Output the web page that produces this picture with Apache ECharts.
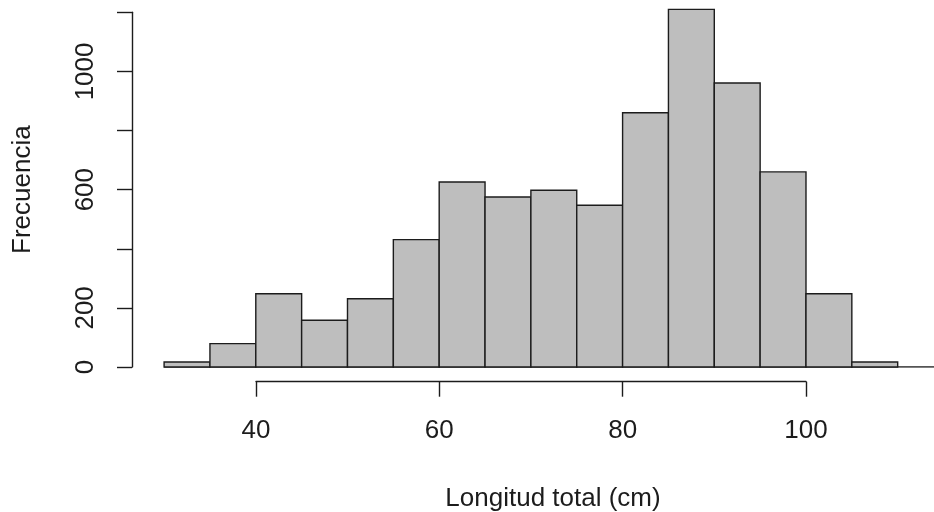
<!DOCTYPE html>
<html>
<head>
<meta charset="utf-8">
<script src="https://cdn.jsdelivr.net/npm/echarts@6/dist/echarts.min.js"></script>
<style>
html,body{margin:0;padding:0;background:#fff;}
#chart{width:934px;height:512px;}
</style>
</head>
<body>
<div id="chart"></div>
<script>
// ---- data ----
const binStarts = [30, 35, 40, 45, 50, 55, 60, 65, 70, 75, 80, 85, 90, 95, 100, 105];
const binWidth = 5;
const counts = [17, 79, 248, 158, 231, 431, 626, 575, 598, 547, 860, 1210, 961, 660, 248, 17];
const xTickValues = [40, 60, 80, 100];
const yTickLabels = [0, 200, 600, 1000];
const xTitle = 'Longitud total (cm)';
const yTitle = 'Frecuencia';

// ---- build ----
const barData = binStarts.map((s, i) => [s, s + binWidth, counts[i]]);
const FONT = 'Liberation Sans, Arial, sans-serif';
const INK = '#1c1c1c';
const xMin = 26.5, xMax = 113.96;

const chart = echarts.init(document.getElementById('chart'), null, {renderer: 'canvas'});
chart.setOption({
  backgroundColor: '#ffffff',
  animation: false,
  grid: [
    {left: 132, right: 0, top: 12.3, bottom: 145},
    {left: 256, width: 550, top: 370, height: 11.7}
  ],
  xAxis: [
    {type: 'value', gridIndex: 0, min: xMin, max: xMax, show: false},
    {
      type: 'value', gridIndex: 1, min: xTickValues[0], max: xTickValues[xTickValues.length - 1],
      interval: 20, position: 'bottom',
      axisLine: {show: true, lineStyle: {color: INK, width: 1.4}},
      axisTick: {show: true, inside: false, length: 15, lineStyle: {color: INK, width: 1.4}},
      axisLabel: {show: true, fontSize: 26, fontFamily: FONT, color: INK, margin: 36,
        formatter: v => xTickValues.includes(v) ? String(v) : ''},
      splitLine: {show: false}
    }
  ],
  yAxis: [
    {
      type: 'value', gridIndex: 0, min: 0, max: 1200, interval: 200,
      axisLine: {show: true, lineStyle: {color: INK, width: 1.4}},
      axisTick: {show: true, inside: false, length: 15, lineStyle: {color: INK, width: 1.4}},
      axisLabel: {show: true, rotate: 90, fontSize: 26, fontFamily: FONT, color: INK, margin: 33,
        formatter: v => yTickLabels.includes(v) ? String(v) : ''},
      splitLine: {show: false},
      name: yTitle, nameLocation: 'middle', nameRotate: 90, nameGap: 96,
      nameTextStyle: {fontSize: 26, fontFamily: FONT, color: INK}
    },
    {type: 'value', gridIndex: 1, show: false, min: 0, max: 1}
  ],
  graphic: [{
    type: 'text',
    style: {text: xTitle, x: 553, y: 499, align: 'center', verticalAlign: 'middle',
      font: '26px ' + FONT, fill: INK}
  }],
  series: [
    {
      type: 'line', xAxisIndex: 0, yAxisIndex: 0, symbol: 'none', silent: true,
      data: [[binStarts[0], 0], [xMax, 0]],
      lineStyle: {color: INK, width: 1.4}, z: 1
    },
    {
      type: 'custom', xAxisIndex: 0, yAxisIndex: 0, z: 2,
      data: barData,
      encode: {x: [0, 1], y: 2},
      renderItem: function (params, api) {
        const p0 = api.coord([api.value(0), api.value(2)]);
        const p1 = api.coord([api.value(1), 0]);
        return {
          type: 'rect',
          shape: {x: p0[0], y: p0[1], width: p1[0] - p0[0], height: p1[1] - p0[1]},
          style: {fill: '#bebebe', stroke: INK, lineWidth: 1.4}
        };
      }
    }
  ]
});
</script>
</body>
</html>
